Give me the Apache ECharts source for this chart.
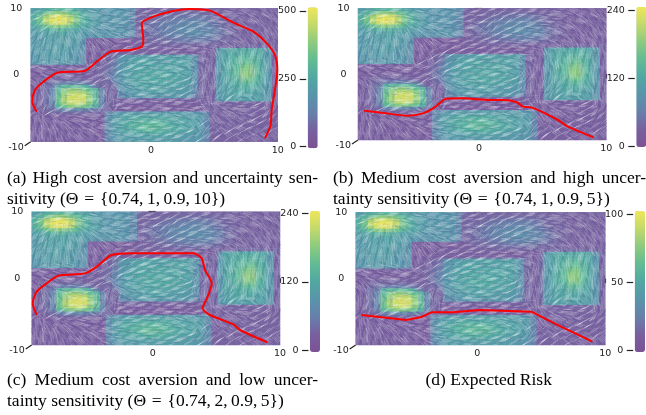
<!DOCTYPE html>
<html>
<head>
<meta charset="utf-8">
<style>
  html, body { margin: 0; padding: 0; background: #fff; }
  #main, #caption { position: absolute; left: 0; top: 0; width: 646px; height: 415px; }
  #main { filter: blur(0.55px); }
</style>
<script src="https://cdn.jsdelivr.net/npm/echarts@6/dist/echarts.min.js"></script>
</head>
<body>
<div id="main"></div>
<div id="caption"></div>
<script>
// colorbar top value of each panel, then the colorbar ticks
const panelMax = [500, 240, 240, 100];
const axisTicksX = [-0.25, 10];
const axisTicksY = [0, 10];
const lowTickLabel = '-10';

// risk field, % of the colorbar, row 0 is y=9.75 and col 0 is x=-9.75 (0.5 unit cells)
const riskRows = [
  [42,46,52,56,58,58,54,50,46,42,40,38,38,38,38,36,30,16,14,14,14,14,14,15,15,15,15,14,14,14,14,14,14,13,13,13,13,13,13,13],
  [48,56,66,74,78,76,68,60,52,46,42,40,38,38,38,36,30,15,14,14,15,15,16,16,17,17,17,17,16,15,15,14,14,14,13,13,13,13,13,13],
  [54,66,82,92,96,92,82,68,56,48,44,40,38,38,38,36,30,15,14,15,16,17,19,20,21,22,22,21,20,18,16,15,14,14,13,13,13,13,13,13],
  [56,70,88,98,100,98,88,72,58,50,44,40,38,38,38,36,30,14,15,16,18,20,22,24,25,26,26,25,23,20,17,15,14,14,13,13,13,13,13,13],
  [54,66,82,92,96,92,82,68,56,48,44,40,38,38,38,36,30,14,16,18,20,23,25,27,28,29,29,28,26,22,19,16,14,14,13,13,13,13,13,13],
  [48,56,66,72,76,72,66,58,50,46,42,40,38,38,38,36,30,15,17,19,22,24,27,29,30,31,31,30,28,25,21,17,15,14,13,13,13,13,13,13],
  [44,48,52,56,58,56,52,48,44,42,40,38,38,38,38,36,30,15,17,20,22,25,27,29,31,33,33,32,30,27,22,18,15,14,13,13,13,13,13,13],
  [42,44,46,48,50,48,46,44,42,40,38,38,38,38,38,36,30,14,16,19,21,23,26,28,30,32,34,32,30,27,23,19,16,14,13,13,13,13,13,13],
  [40,42,44,46,46,46,44,42,40,38,36,36,36,36,36,34,26,14,15,17,19,21,23,25,27,28,29,28,26,24,20,17,15,14,13,13,13,13,13,13],
  [40,42,44,44,44,44,44,42,38,12,11,11,11,11,11,11,12,13,14,15,16,18,19,21,22,23,24,23,22,20,18,16,14,14,13,13,13,13,13,13],
  [40,42,44,44,44,44,42,42,36,11,11,11,11,11,11,11,11,13,13,14,15,15,16,17,17,18,18,17,17,16,15,14,14,13,13,13,13,13,13,13],
  [40,42,44,44,44,44,42,40,36,11,11,11,11,11,11,11,11,13,13,13,13,14,14,14,14,14,14,14,14,14,14,14,14,16,16,16,16,16,15,14],
  [40,42,42,44,44,44,42,40,36,11,11,11,11,11,11,11,11,12,12,12,12,12,12,12,12,12,12,12,12,12,36,46,48,50,50,50,50,46,36,14],
  [40,42,42,44,44,42,40,38,34,12,12,12,12,12,12,12,12,13,13,13,13,13,13,13,13,13,13,13,13,13,38,48,50,52,52,52,50,48,38,14],
  [38,40,42,42,42,42,40,38,34,12,12,13,15,18,34,38,40,42,44,44,44,44,44,44,44,42,34,16,13,14,38,48,52,54,56,56,54,48,38,14],
  [38,40,40,42,42,40,40,38,34,12,12,13,15,20,36,42,44,46,46,46,46,46,46,46,46,44,36,16,13,14,38,48,52,56,60,60,56,50,38,14],
  [36,38,40,40,40,40,38,36,32,12,13,14,16,22,36,42,46,46,48,48,46,46,46,46,46,44,36,16,13,14,38,48,52,58,64,66,58,50,38,14],
  [14,13,13,13,13,13,13,13,13,13,13,14,18,24,36,42,46,48,48,48,48,48,48,46,46,44,36,16,13,14,38,48,54,60,70,72,60,50,38,14],
  [12,12,12,12,12,12,12,12,12,13,13,15,18,26,38,44,46,48,48,48,48,48,48,48,46,44,36,16,13,14,38,48,54,62,74,74,62,50,38,14],
  [12,12,12,12,12,12,12,12,12,13,13,15,20,28,38,44,46,48,48,50,50,50,48,48,46,44,36,16,13,14,38,48,54,62,76,76,62,50,38,14],
  [12,12,13,14,14,14,14,14,13,13,13,15,20,28,38,44,46,48,50,50,50,50,48,48,46,44,36,16,13,14,38,48,54,60,74,74,60,50,38,14],
  [12,13,15,16,16,16,16,16,15,14,13,15,18,26,38,44,46,48,50,50,50,50,48,48,46,44,36,16,13,14,38,48,52,58,68,68,58,48,38,14],
  [12,14,16,18,22,24,26,26,24,20,15,14,16,22,36,42,46,48,48,48,48,48,48,46,46,44,36,16,13,14,38,46,50,54,60,60,54,46,38,14],
  [12,14,17,22,52,58,60,60,58,50,24,15,14,18,36,40,44,46,46,46,46,46,46,46,44,42,34,16,13,14,38,46,50,52,54,54,50,46,38,14],
  [12,14,18,26,60,72,78,78,72,64,56,26,15,14,34,40,42,44,44,46,46,46,44,44,42,40,32,16,13,14,38,46,48,50,50,50,48,46,38,14],
  [12,14,18,28,64,78,86,88,86,74,60,28,15,14,32,38,40,42,42,44,44,44,42,42,40,38,30,16,13,14,38,44,46,48,48,48,46,44,38,14],
  [12,14,18,28,66,82,92,94,92,78,62,28,15,14,28,34,36,38,40,40,40,40,40,38,38,34,26,16,13,14,38,44,46,46,46,46,46,44,36,14],
  [12,14,18,28,68,84,92,96,92,80,64,28,15,13,14,14,14,14,14,14,14,14,14,14,14,14,14,14,13,14,36,42,44,44,44,44,44,42,36,14],
  [12,14,18,28,66,80,88,90,86,76,62,28,15,13,12,12,12,12,12,12,12,12,12,12,12,12,12,13,13,13,14,14,14,14,14,14,14,14,14,13],
  [12,14,17,24,58,68,74,74,70,64,54,26,15,13,11,11,11,11,11,11,11,11,11,11,11,11,11,12,13,13,13,13,13,13,13,13,13,13,13,13],
  [12,13,15,18,24,28,30,30,28,26,22,18,14,13,11,11,11,11,11,11,11,11,11,11,11,11,11,12,13,13,13,13,13,13,13,13,13,13,13,13],
  [12,12,13,14,15,16,16,16,15,14,14,13,28,34,38,40,42,42,42,42,42,42,42,42,42,40,38,36,28,13,13,13,13,13,13,13,13,13,13,13],
  [12,12,12,12,12,12,12,12,12,12,12,12,32,40,44,46,48,48,48,48,48,48,46,46,46,44,42,40,30,13,13,13,13,13,13,13,13,13,13,13],
  [12,12,12,12,12,12,12,12,12,12,12,12,32,42,46,50,52,54,54,54,54,52,50,48,46,46,44,40,30,13,13,13,13,13,13,13,13,13,13,13],
  [12,12,12,12,12,12,12,12,12,12,12,12,32,42,48,52,54,56,58,58,58,56,52,50,48,46,44,40,30,13,13,13,13,13,13,13,13,13,13,13],
  [12,12,12,12,12,12,12,12,12,12,12,12,32,42,48,52,54,56,60,60,60,58,54,50,48,46,44,40,30,13,13,13,13,13,13,13,13,13,13,13],
  [12,12,12,12,12,12,12,12,12,12,12,12,32,42,46,50,52,54,58,58,58,56,52,50,46,46,44,40,30,13,13,13,13,13,13,13,13,13,13,13],
  [12,12,12,12,12,12,12,12,12,12,12,12,32,40,44,46,48,50,52,52,52,50,48,46,44,44,42,40,30,13,13,13,13,13,13,13,13,13,13,13],
  [12,12,12,12,12,12,12,12,12,12,12,12,30,38,42,44,44,46,46,46,46,46,44,44,42,42,40,38,28,13,13,13,13,13,13,13,13,13,13,13],
  [12,12,12,12,12,12,12,12,12,12,12,12,28,36,40,42,42,42,42,42,42,42,42,42,40,40,38,36,26,13,13,13,13,13,13,13,13,13,13,13]
];

// streak direction in degrees, row 0 is y=9.5 and col 0 is x=-9.5 (1 unit cells)
const flowRows = [
  [10,0,0,175,170,165,170,175,0,10,15,20,15,10,5,0,170,160,150,140],
  [20,10,0,170,165,170,175,0,5,10,30,35,20,10,5,175,160,150,140,130],
  [50,40,90,140,150,165,175,5,10,170,45,40,25,10,0,170,155,140,130,125],
  [60,70,90,115,135,150,160,170,175,150,50,30,15,5,175,165,150,135,125,120],
  [65,75,90,105,125,140,150,160,165,5,15,15,5,0,175,165,150,130,120,115],
  [70,80,90,100,115,130,145,5,10,10,10,5,0,175,170,160,145,125,115,110],
  [75,80,90,100,110,120,40,30,20,15,10,5,0,175,120,110,105,90,75,100],
  [80,85,90,95,105,115,35,25,15,10,5,0,175,160,100,105,100,90,80,95],
  [5,170,165,160,155,30,35,20,10,5,0,175,165,130,85,100,100,90,80,95],
  [160,165,170,175,5,20,40,20,10,0,175,170,160,120,95,95,95,90,85,90],
  [140,150,165,175,5,20,150,170,175,0,5,10,20,60,100,85,80,90,100,90],
  [120,140,165,175,10,35,130,160,170,175,0,5,25,75,85,75,70,90,110,90],
  [100,115,140,10,170,120,75,155,170,175,0,10,30,100,80,65,60,90,120,90],
  [90,95,90,0,175,90,85,170,175,175,0,5,5,5,95,50,40,170,140,100],
  [75,70,40,0,175,60,60,5,5,175,175,0,5,5,120,170,175,5,20,100],
  [45,30,15,5,170,150,130,175,5,5,175,170,170,175,130,150,160,170,30,60],
  [95,130,155,165,170,175,5,5,5,0,175,170,165,140,120,140,150,160,30,50],
  [100,115,135,150,160,170,175,0,0,0,175,170,160,120,40,145,150,40,30,45],
  [95,105,120,135,145,155,170,175,175,0,5,10,20,60,50,135,35,30,150,40],
  [90,100,110,125,135,145,165,170,175,0,5,10,15,30,40,35,30,145,140,135]
];

// planned paths [x, y]
const pathA = [[-9.51,-5.5],[-9.87,-4],[-9.65,-2.25],[-8.97,-1],[-7.84,0.35],[-5.6,0.65],[-4.66,2],[-3.52,3.5],[-1.96,3.75],[-1.01,4.25],[-0.88,5.25],[-1.01,7.75],[-0.07,8.75],[1.55,9.6],[2.9,9.9],[4.52,9.65],[6.41,7.85],[8.03,6.5],[9.11,4.75],[9.78,3],[9.97,0.75],[9.78,-2.25],[9.51,-5.25],[9.43,-7.5],[8.97,-9.5]];
const pathB = [[-9.54,-5.54],[-8.12,-5.85],[-5.97,-6.3],[-4.77,-5.95],[-3.83,-5.04],[-2.89,-3.72],[-1.54,-3.67],[0.6,-3.92],[1.68,-3.92],[2.75,-4.23],[3.29,-4.94],[3.96,-5.04],[5.97,-6.81],[6.91,-7.97],[8.98,-9.6]];
const pathC = [[-9.6,-5.5],[-9.92,-3.75],[-9.6,-2],[-8.79,-0.75],[-7.85,0.4],[-5.7,0.75],[-4.77,1.75],[-3.56,3.5],[-1.81,3.75],[3.02,3.75],[3.69,3],[3.96,1.25],[4.5,-0.75],[4.23,-2.5],[3.77,-4.5],[4.36,-5.5],[6.24,-6.9],[6.78,-7.75],[8.98,-9.6]];
const pathD = [[-9.55,-5.48],[-5.94,-6.23],[-4.74,-5.78],[-3.94,-5.08],[-2.2,-5.08],[-0.07,-4.72],[4.07,-4.97],[6.08,-6.88],[8.96,-9.5]];
const paths = [pathA, pathB, pathC, pathD];

const captionA = ['(a) High cost aversion and uncertainty sen-', 'sitivity (Θ\u2004=\u2004{0.74,\u20091,\u20090.9,\u200910})'];
const captionB = ['(b) Medium cost aversion and high uncer-', 'tainty sensitivity (Θ\u2004=\u2004{0.74,\u20091,\u20090.9,\u20095})'];
const captionC = ['(c) Medium cost aversion and low uncer-', 'tainty sensitivity (Θ\u2004=\u2004{0.74,\u20092,\u20090.9,\u20095})'];
const captionD = ['(d) Expected Risk'];

// 画布布局
const fieldRect = [
  { left: 30.7, top: 8.3, right: 277.7, bottom: 141.7 },
  { left: 358, top: 8.3, right: 606.3, bottom: 140 },
  { left: 31.7, top: 211.7, right: 280, bottom: 345 },
  { left: 355.7, top: 212.3, right: 605.3, bottom: 345 }
];
const barRect = [
  { left: 307.7, width: 10, top: 7.3, bottom: 148.3, tickTop: 11, tickZero: 146.7 },
  { left: 636.3, width: 10, top: 6.7, bottom: 147, tickTop: 10.7, tickZero: 146.7 },
  { left: 310, width: 10, top: 211, bottom: 352, tickTop: 213.3, tickZero: 350.7 },
  { left: 634.7, width: 10.3, top: 211, bottom: 352, tickTop: 214.3, tickZero: 350.7 }
];
const captionPos = [
  { x: 7, y: [178, 199], right: 318 },
  { x: 333, y: [178, 199], right: 646 },
  { x: 7, y: [380, 401.5], right: 318 },
  { center: 488.7, y: [380] }
];
const captions = [captionA, captionB, captionC, captionD];

const viridisWashed = ['#7c5294', '#78609f', '#6780aa', '#5895aa', '#52a8a2', '#62bb94', '#8ccb7f', '#c3d96b', '#efe65a'];
const axisFont = { fontFamily: 'DejaVu Sans', fontSize: 9.5, color: '#222' };
const serifFont = '17.5px "Liberation Serif"';

const measure = document.createElement('canvas').getContext('2d');
measure.font = serifFont;

// 两端对齐的标题，一个词一个 text
function captionElements(lines, pos) {
  const out = [];
  lines.forEach((line, n) => {
    const y = pos.y[n];
    if (pos.center !== undefined) {
      out.push({ type: 'text', x: pos.center, y: y, style: { text: line, font: serifFont, fill: '#000', align: 'center', verticalAlign: 'middle' } });
      return;
    }
    if (n > 0) {
      out.push({ type: 'text', x: pos.x, y: y, style: { text: line, font: serifFont, fill: '#000', verticalAlign: 'middle' } });
      return;
    }
    const words = line.split(' ');
    const used = words.reduce((s, w) => s + measure.measureText(w).width, 0);
    const gap = (pos.right - pos.x - used) / (words.length - 1);
    let x = pos.x;
    words.forEach(w => {
      out.push({ type: 'text', x: x, y: y, style: { text: w, font: serifFont, fill: '#000', verticalAlign: 'middle' } });
      x += measure.measureText(w).width + gap;
    });
  });
  return out;
}

const flowData = [];
flowRows.forEach((row, j) => row.forEach((a, i) => flowData.push([-9.5 + i, 9.5 - j, a])));

// 每个格子画几条短线，方向取该格的值
function renderFlow(params, api) {
  const c = api.coord([api.value(0), api.value(1)]);
  const s = api.size([1, 1]);
  const rad = api.value(2) * Math.PI / 180;
  const dx = Math.cos(rad), dy = -Math.sin(rad);
  const children = [];
  const n = 14;
  for (let k = 0; k < n; k++) {
    const u = ((params.dataIndex * 0.37 + k * 0.618) % 1) * 1.3 - 0.65;
    const v = ((params.dataIndex * 0.73 + k * 0.382) % 1) * 1.3 - 0.65;
    const len = 2 + (k % 3) * 1.3;
    const px = c[0] + u * s[0], py = c[1] + v * s[1];
    children.push({
      type: 'line',
      shape: { x1: px - dx * len, y1: py - dy * len, x2: px + dx * len, y2: py + dy * len },
      style: { stroke: k % 4 === 3 ? 'rgba(70,30,110,0.12)' : 'rgba(255,255,255,' + (0.14 + (k % 3) * 0.08) + ')', lineWidth: 0.7 },
      silent: true
    });
  }
  return { type: 'group', children: children };
}

const grid = [], xAxis = [], yAxis = [], series = [], visualMap = [], graphic = [], captionGraphic = [];
const heatCols = riskRows[0].map((v, i) => i);
const heatLines = riskRows.map((v, j) => j);

paths.forEach((path, p) => {
  const r = fieldRect[p], b = barRect[p], max = panelMax[p];

  // field grid: value axes for the path, hidden category axes for the heatmap
  grid.push({ left: r.left, top: r.top, width: r.right - r.left, height: r.bottom - r.top });
  const g = grid.length - 1;
  const vx = xAxis.length;
  xAxis.push({
    gridIndex: g, type: 'value', min: -10, max: 10, interval: 10,
    axisLine: { show: false }, splitLine: { show: false },
    axisTick: { length: 4.5, customValues: axisTicksX, lineStyle: { color: '#222', width: 1.2 } },
    axisLabel: Object.assign({ customValues: axisTicksX, margin: 3.5, formatter: v => String(Math.round(v) + 0) }, axisFont)
  });
  xAxis.push({ gridIndex: g, type: 'category', data: heatCols, show: false });
  const vy = yAxis.length;
  yAxis.push({
    gridIndex: g, type: 'value', min: -10, max: 10, interval: 10,
    axisLine: { show: false }, splitLine: { show: false },
    axisTick: { length: 7.5, customValues: axisTicksY, lineStyle: { color: '#222', width: 1.2 } },
    axisLabel: Object.assign({ customValues: axisTicksY, align: 'center', margin: 14.5 }, axisFont)
  });
  yAxis.push({ gridIndex: g, type: 'category', data: heatLines, show: false });

  const heat = [];
  riskRows.forEach((row, j) => row.forEach((pct, i) => heat.push([i, 39 - j, pct * max / 100])));
  const heatIndex = series.length;
  series.push({
    type: 'heatmap', xAxisIndex: vx + 1, yAxisIndex: vy + 1, data: heat,
    progressive: 0, silent: true, z: 1
  });
  series.push({
    type: 'custom', xAxisIndex: vx, yAxisIndex: vy, data: flowData, renderItem: renderFlow,
    clip: true, silent: true, z: 2, progressive: 0
  });
  series.push({
    type: 'line', xAxisIndex: vx, yAxisIndex: vy, data: path, showSymbol: false, smooth: p === 3 ? false : 0.25,
    lineStyle: { color: '#ff0000', width: 2 }, silent: true, z: 3, clip: false
  });

  const unit = (b.tickZero - b.tickTop) / max;
  visualMap.push({
    type: 'continuous', seriesIndex: heatIndex, dimension: 2,
    min: (b.tickZero - b.bottom) / unit, max: (b.tickZero - b.top) / unit,
    left: b.left, top: b.top, itemWidth: b.width, itemHeight: b.bottom - b.top,
    padding: 0, calculable: false, realtime: false, hoverLink: false, text: null, showLabel: false,
    inRange: { color: viridisWashed }
  });

  // colorbar axis
  grid.push({ left: b.left - 1.5, width: 1, top: b.tickTop, height: b.tickZero - b.tickTop });
  const cg = grid.length - 1;
  xAxis.push({ gridIndex: cg, type: 'value', show: false, min: 0, max: 1 });
  yAxis.push({
    gridIndex: cg, type: 'value', min: 0, max: max, interval: max / 2,
    axisLine: { show: false }, splitLine: { show: false },
    axisTick: { length: 6.5, lineStyle: { color: '#222', width: 1.2 } },
    axisLabel: Object.assign({ margin: 10 }, axisFont)
  });

  // the slanted -10 tick at the lower left corner
  graphic.push({
    type: 'line', shape: { x1: r.left, y1: r.bottom, x2: r.left - 6, y2: r.bottom + 4 },
    style: { stroke: '#222', lineWidth: 1.2 }
  });
  graphic.push({
    type: 'text', x: r.left - 7, y: r.bottom + 6,
    style: { text: lowTickLabel, font: '9.5px "DejaVu Sans"', fill: '#222', align: 'right', verticalAlign: 'middle' }
  });

  captionElements(captions[p], captionPos[p]).forEach(t => captionGraphic.push(t));
});

const myChart = echarts.init(document.getElementById('main'), null, { renderer: 'canvas' });
myChart.setOption({
  animation: false,
  backgroundColor: '#fff',
  grid, xAxis, yAxis, series, visualMap,
  graphic: { elements: graphic }
});

// 标题单独一层，不做模糊
const captionChart = echarts.init(document.getElementById('caption'), null, { renderer: 'canvas' });
captionChart.setOption({
  animation: false,
  graphic: { elements: captionGraphic }
});
</script>
</body>
</html>
